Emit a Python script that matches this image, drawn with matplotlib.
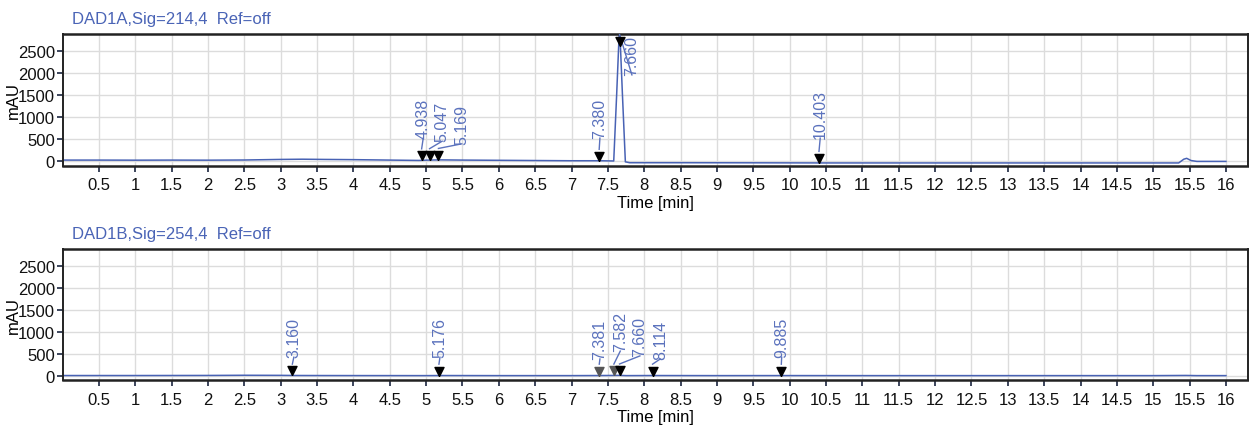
import matplotlib
matplotlib.use("Agg")
import matplotlib.pyplot as plt

plt.rcParams['font.family'] = ['Liberation Sans', 'DejaVu Sans']

# ---------------- data ----------------
titles = ["DAD1A,Sig=214,4  Ref=off", "DAD1B,Sig=254,4  Ref=off"]

t_a = [0.0, 0.5, 1.0, 1.5, 2.0, 2.5, 3.0, 3.3, 3.6, 4.0, 4.5, 4.9, 5.0, 5.1, 5.2,
       5.5, 6.0, 6.5, 7.0, 7.4, 7.58, 7.62, 7.66, 7.70, 7.74, 7.8, 8.5, 9.5, 10.5,
       12.0, 14.0, 15.35, 15.42, 15.46, 15.52, 15.6, 16.0]
v_a = [20, 20, 18, 20, 18, 22, 35, 40, 35, 30, 20, 12, 18, 22, 25,
       20, 15, 10, 5, 5, 0, 1500, 3100, 1500, -20, -40, -40, -42, -45,
       -45, -45, -45, 40, 60, 10, -10, -10]

t_b = [0.0, 0.5, 1.0, 1.5, 2.0, 2.5, 3.0, 3.2, 3.5, 4.0, 5.0, 5.2, 6.0, 7.0,
       7.38, 7.58, 7.66, 7.75, 8.11, 9.0, 9.9, 11.0, 13.0, 15.0, 15.45, 15.6, 16.0]
v_b = [2, 2, 2, 3, 4, 8, 6, 3, 2, 1, 0, 2, 0, 0,
       2, 4, 6, 0, 2, 0, 1, 0, 0, 0, 4, 0, 0]

# peak annotations: retention time, marker tip value, label x, label bottom value
rt_a = [4.938, 5.047, 5.169, 7.380, 7.660, 10.403]
mk_a = [15, 20, 25, 5, 2620, -42]
lx_a = [4.96, 5.22, 5.49, 7.39, 7.83, 10.42]
ly_a = [520, 450, 390, 520, 1960, 520]
lbl_a = ["4.938", "5.047", "5.169", "7.380", "7.660", "10.403"]
mc_a = ["black"] * 6

rt_b = [3.160, 5.176, 7.381, 7.582, 7.660, 8.114, 9.885]
mk_b = [3, 2, 2, 4, 6, 2, 1]
lx_b = [3.18, 5.19, 7.39, 7.67, 7.94, 8.22, 9.89]
ly_b = [420, 420, 380, 560, 450, 380, 420]
lbl_b = ["3.160", "5.176", "7.381", "7.582", "7.660", "8.114", "9.885"]
mc_b = ["black", "black", "#555555", "#555555", "black", "black", "black"]

xticks = [0.5 * i for i in range(1, 33)]
xticklabels = [("%g" % x) for x in xticks]
yticks = [0, 500, 1000, 1500, 2000, 2500]

# ---------------- style ----------------
trace_color = "#4862b4"
label_color = "#5b72bd"
title_color = "#4a64b6"
FS = 12

fig = plt.figure(figsize=(12.49, 4.31), dpi=100)
ax_a = fig.add_axes([0.0507, 0.613, 0.9483, 0.306])
ax_b = fig.add_axes([0.0507, 0.115, 0.9483, 0.305])

tri = [(0, 0), (-0.55, 1.1), (0.55, 1.1), (0, 0)]
mk_h = 260  # marker height in data units

def draw(ax, t, v, title, rt, mk, lx, ly, lbl, mc):
    ax.set_xlim(0.01, 16.3)
    ax.set_ylim(-110, 2893)
    ax.set_xticks(xticks)
    ax.set_xticklabels(xticklabels, fontsize=FS)
    ax.set_yticks(yticks)
    ax.set_yticklabels([str(y) for y in yticks], fontsize=FS)
    ax.grid(True, color="#dcdcdc", linewidth=1.0)
    ax.set_axisbelow(True)
    for s in ax.spines.values():
        s.set_linewidth(1.4)
        s.set_color("#222222")
    ax.spines['top'].set_linewidth(1.8)
    ax.spines['bottom'].set_linewidth(1.8)
    ax.tick_params(axis='both', direction='out', length=4, width=1.2,
                   colors="#1a2540", labelcolor="#111111", pad=2)
    ax.tick_params(axis='x', pad=4)
    ax.plot(t, v, color=trace_color, linewidth=1.1, clip_on=True)
    for r, m, x, y, s, c in zip(rt, mk, lx, ly, lbl, mc):
        ax.plot([r], [m], marker=tri, markersize=13, color=c, linestyle='none',
                clip_on=False, zorder=5)
        ax.plot([r, x], [m + mk_h, y], color=label_color, linewidth=1.0, zorder=4)
        ax.text(x, y, s, rotation=90, ha='center', va='bottom', fontsize=11.5,
                color=label_color, zorder=6)
    ax.set_xlabel("Time [min]", fontsize=FS, labelpad=2)
    ax.set_ylabel("mAU", fontsize=FS)
    ax.yaxis.set_label_coords(-0.036, 0.5)
    ax.text(0.0075, 1.06, title, transform=ax.transAxes, fontsize=FS,
            color=title_color, ha='left', va='bottom')

draw(ax_a, t_a, v_a, titles[0], rt_a, mk_a, lx_a, ly_a, lbl_a, mc_a)
draw(ax_b, t_b, v_b, titles[1], rt_b, mk_b, lx_b, ly_b, lbl_b, mc_b)

fig.savefig("out.png", dpi=100)
